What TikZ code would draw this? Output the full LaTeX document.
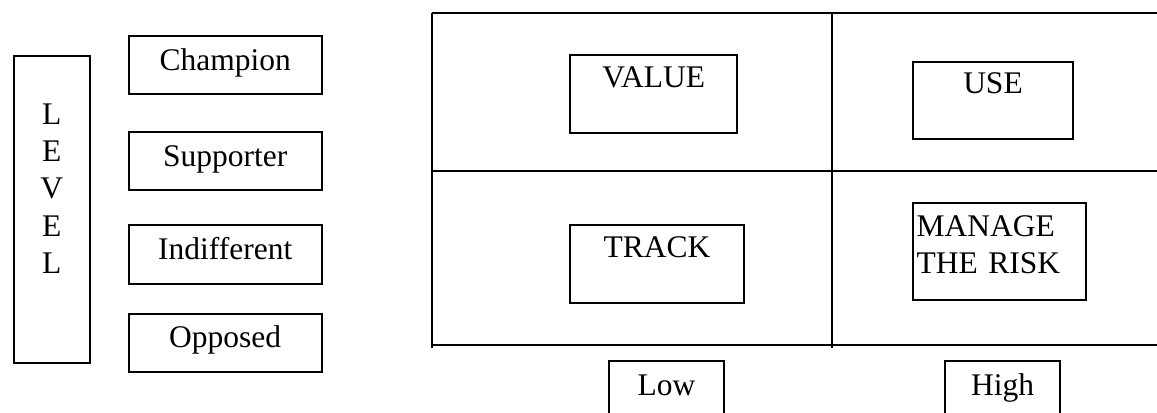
\documentclass[tikz,border=0pt]{standalone}
\usepackage{fontspec}
\setmainfont{Liberation Serif}
\begin{document}
\begin{tikzpicture}[x=1bp,y=-1bp,
  every node/.style={font=\fontsize{31.5bp}{37.3bp}\selectfont},
  tbox/.style={draw, line width=2bp, inner sep=0pt, anchor=north west, align=center},
  gridline/.style={line width=2.3bp}]
\clip (0,0) rectangle (1157,412);
\useasboundingbox (0,0) rectangle (1157,412);
% LEVEL
\node[tbox, text width=76bp, text height=68.3bp, text depth=238.7bp] (level) at (12.7,55) {L\\E\\V\\E\\L};
% stance boxes
\node[tbox, text width=193bp, text height=34.3bp, text depth=24bp] (champ) at (127.7,35) {Champion};
\node[tbox, text width=193bp, text height=34.3bp, text depth=24bp] (supp) at (127.7,130.7) {Supporter};
\node[tbox, text width=193bp, text height=34bp, text depth=24.4bp] (indiff) at (127.7,224.3) {Indifferent};
\node[tbox, text width=193bp, text height=34bp, text depth=24bp] (opp) at (127.7,312.7) {Opposed};
% grid
\coordinate (g1) at (431.7,12.7);
\coordinate (g2) at (1157,12.7);
\coordinate (g3) at (431.7,170.7);
\coordinate (g4) at (1157,170.7);
\coordinate (g5) at (431.7,344.7);
\coordinate (g6) at (1157,344.7);
\coordinate (g7) at (431.7,348);
\coordinate (v1) at (831.7,12.7);
\coordinate (v2) at (831.7,348);
\draw[gridline] (g1) -- (g2);
\draw[gridline] (g3) -- (g4);
\draw[gridline] (g5) -- (g6);
\draw[gridline] (g1) -- (g7);
\draw[gridline] (v1) -- (v2);
% quadrant boxes
\node[tbox, text width=166.7bp, text height=32.4bp, text depth=45bp] (value) at (569.3,54.3) {VALUE};
\node[tbox, text width=173.4bp, text height=32bp, text depth=45.7bp] (track) at (569.3,224) {TRACK};
\node[tbox, text width=160.6bp, text height=31.6bp, text depth=45.4bp] (use) at (911.7,60.7) {USE};
\node[tbox, text width=173.3bp, text height=32.7bp, text depth=64bp, align=left] (manage) at (911.7,202.3) {\hspace*{4bp}MANAGE\\\hspace*{4bp}THE RISK};
% axis labels
\node[tbox, text width=115.6bp, text height=34.3bp, text depth=30bp] (low) at (607.7,360) {Low};
\node[tbox, text width=115.3bp, text height=34.3bp, text depth=30bp] (high) at (944,360) {High};
\end{tikzpicture}
\end{document}
